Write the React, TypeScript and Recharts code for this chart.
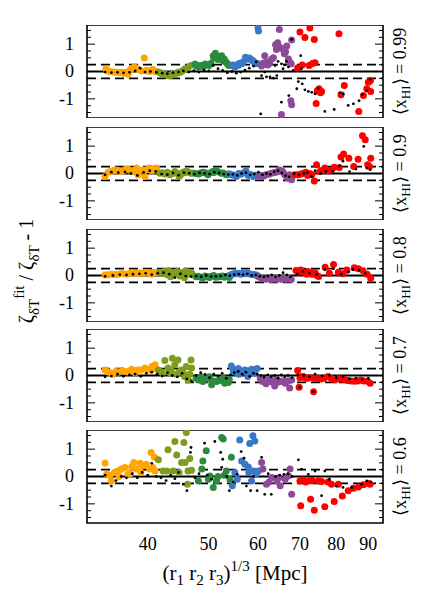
import { ScatterChart, Scatter, XAxis, YAxis, ReferenceLine, ReferenceArea } from "recharts";

type Pt = [number, number];

// x = (r1 r2 r3)^(1/3) in Mpc, y = zeta_fit / zeta - 1
const orange1: Pt[] = [[34.3,0.1],[34.6,0.02],[34.8,0],[35.2,-0.02],[35.4,-0.03],[35.6,-0.02],[36.0,-0.05],[36.3,-0.03],[36.6,-0.06],[36.8,-0.05],[37.0,-0.02],[37.2,-0.1],[37.5,0.05],[37.7,0.12],[38.1,0.16],[38.4,0.1],[38.6,0.07],[39.1,0.02],[39.5,0.49],[39.8,0.04],[40.0,0.02],[40.3,0],[40.5,0.05],[40.8,0.07],[41.1,0]];
const olive1: Pt[] = [[41.6,-0.02],[41.9,-0.05],[42.1,-0.07],[42.4,-0.1],[42.6,-0.11],[42.9,-0.13],[43.1,-0.15],[43.4,-0.16],[43.6,-0.12],[43.9,-0.1],[44.2,-0.08],[44.5,-0.06],[44.7,-0.03],[45.0,-0.04],[45.3,0],[45.6,0.05],[45.9,0.1],[46.1,0.08],[46.4,0.15],[46.9,0.22]];
const green1: Pt[] = [[47.6,0.27],[47.9,0.2],[48.2,0.16],[48.5,0.22],[48.8,0.22],[49.1,0.18],[49.4,0.27],[49.7,0.25],[50.1,0.22],[50.5,0.3],[50.9,0.58],[51.0,0.5],[51.3,0.67],[51.8,0.44],[52.1,0.52],[52.5,0.58],[52.8,0.38],[53.0,0.46],[53.4,0.34],[53.6,0.28],[53.9,0.22]];
const blue1: Pt[] = [[54.6,0.24],[54.9,0.2],[55.1,0.16],[55.5,0.25],[55.8,0.22],[56.1,0.3],[56.5,0.28],[56.8,0.35],[57.3,0.52],[57.6,0.45],[57.9,0.49],[58.2,0.48],[58.5,0.44],[58.8,0.4],[59.0,0.37],[59.3,0.32],[59.5,0.28],[59.8,0.3],[60.0,1.59],[60.1,1.48]];
const purple1: Pt[] = [[60.8,0.2],[61.1,0.3],[61.5,0.58],[61.9,0.35],[62.2,0.24],[62.6,0.3],[63.1,0.46],[63.5,0.5],[64.0,0.98],[64.2,0.8],[64.5,1.05],[65.0,0.89],[65.6,0.83],[66.1,0.65],[66.4,0.72],[66.7,0.93],[67.1,0.46],[67.4,0.35],[67.8,0.28],[67.9,1.15],[64.9,1.54],[65.4,-1.57],[67.7,-1.07],[67.9,-1.22]];
const red1: Pt[] = [[69.4,0.13],[70.0,1.44],[70.6,0.24],[71.3,1.24],[72.4,0.22],[72.6,1.59],[73.3,0.29],[73.8,1.17],[74.0,0.32],[74.3,-1.17],[74.6,-0.7],[75.1,-0.63],[75.5,-0.78],[75.8,-0.73],[80.8,1.38],[81.4,-0.85],[82.4,-0.51],[86.9,-1.46],[88.4,-0.88],[89.5,-0.63],[90.0,-0.39],[90.7,-0.34],[90.8,-0.73]];
const black1: Pt[] = [[34.2,-0.02],[35.0,-0.04],[35.8,-0.03],[36.6,-0.05],[37.4,-0.03],[38.2,0.02],[38.9,0.12],[39.6,-0.02],[40.4,0],[41.3,-0.03],[42.2,-0.06],[43.0,-0.08],[43.9,-0.05],[44.8,-0.02],[45.6,0.02],[46.5,-0.02],[47.4,0.03],[48.3,-0.02],[49.2,0.05],[50.1,0.02],[50.9,0.22],[51.8,0.1],[52.7,0.04],[53.6,-0.05],[54.5,0],[55.4,-0.06],[56.3,-0.02],[57.2,0.05],[58.1,0.12],[59.0,0.2],[59.6,0.35],[60.6,-1.55],[60.8,-0.15],[61.5,-0.02],[61.9,-0.2],[62.7,-0.2],[63.5,-0.24],[64.3,-0.15],[63.9,0.22],[64.6,0.37],[65.4,0.28],[66.2,0.24],[65.8,0.1],[67.1,0.16],[66.6,0.37],[67.9,1.17],[70.2,0.58],[65.4,-1.12],[67.2,-0.88],[69.2,-0.63],[69.6,-0.37],[70.6,-0.45],[71.3,-0.67],[72.2,-0.73],[73.1,-0.76],[74.0,-0.82],[74.9,-0.63],[76.7,-1.46],[79.4,-1.39],[81.1,-0.78],[82.1,-0.82],[83.6,-1.24],[85.2,-1.18],[87.0,-1.07],[88.1,-0.85],[89.5,-0.7],[90.6,-0.29],[70.4,0.1],[68.3,0.04]];

const orange2: Pt[] = [[34.2,-0.11],[34.6,0.05],[34.9,0.07],[35.2,0.1],[35.5,0.13],[35.8,0.12],[36.0,0.08],[36.3,0.07],[36.7,0.12],[37.0,0.17],[37.3,0.15],[37.7,0.07],[38.0,0.1],[38.4,0.2],[38.6,-0.05],[38.9,0.12],[39.3,0.13],[39.6,-0.11],[39.9,0.15],[40.3,0.2],[40.6,0.1],[40.8,0.13],[41.0,0.18],[41.3,0.2]];
const olive2: Pt[] = [[41.8,0.01],[42.2,0.03],[42.6,-0.02],[43.0,0.05],[43.4,-0.05],[43.8,0],[44.2,0.07],[44.5,0.02],[44.9,-0.11],[45.2,-0.03],[45.5,0.05],[45.8,0.03],[46.1,0.1],[46.5,0.05],[46.9,0.01],[47.2,0.02]];
const green2: Pt[] = [[47.7,0],[48.2,-0.02],[48.6,0.02],[49.0,0.05],[49.4,0.03],[49.9,-0.05],[50.0,0],[50.3,0.02],[50.8,0.07],[51.0,0.04],[51.4,0.12],[51.8,0.06],[52.4,0.01],[52.8,0.02],[53.4,-0.05],[53.8,-0.02]];
const blue2: Pt[] = [[54.1,-0.02],[54.5,-0.05],[54.9,-0.06],[55.4,-0.11],[55.9,0],[55.9,-0.04],[56.4,-0.02],[56.9,0.02],[57.4,0.1],[57.9,-0.07],[58.4,-0.04],[59.0,-0.11],[59.5,-0.06],[60.0,-0.08]];
const purple2: Pt[] = [[60.3,-0.08],[60.8,-0.11],[61.3,-0.09],[61.8,-0.05],[62.4,-0.03],[63.0,0.01],[63.5,0.03],[64.1,0.05],[64.9,0.13],[65.5,0.1],[65.8,0.05],[66.2,-0.05],[66.6,-0.1],[67.0,-0.17],[67.4,-0.05],[67.9,-0.23]];
const red2: Pt[] = [[68.8,-0.05],[69.6,-0.05],[70.3,-0.02],[70.9,0.01],[71.5,0.05],[72.0,-0.07],[72.6,0],[73.1,-0.05],[73.8,-0.27],[74.4,0.32],[75.3,0.07],[75.8,0.1],[76.2,0.12],[76.7,0.2],[77.7,0.1],[78.6,0.13],[79.4,0.23],[80.9,0.22],[81.4,0.6],[82.2,0.71],[83.8,0.56],[85.3,0.26],[86.7,0.52],[88.1,1.38],[89.0,1.23],[89.8,0.32],[90.4,0.26],[90.8,0.56]];
const black2: Pt[] = [[34.2,-0.05],[35.0,0.05],[35.9,0.03],[36.8,0.06],[37.6,0],[38.5,-0.07],[39.4,0.04],[40.3,0.1],[41.2,0.08],[42.1,-0.02],[43.0,-0.04],[43.9,0.02],[44.8,-0.06],[45.7,0.03],[46.6,0.01],[47.5,-0.02],[48.4,0.02],[49.3,0],[50.2,-0.02],[51.1,0.05],[52.0,0.02],[52.9,-0.02],[53.8,-0.04],[54.7,-0.03],[55.6,-0.07],[56.5,0],[57.4,0.03],[58.3,-0.05],[59.2,-0.02],[60.1,0.05],[61.0,-0.05],[61.9,0],[62.8,-0.03],[63.7,0.06],[64.6,0.1],[65.5,0.02],[66.4,-0.08],[67.3,-0.12],[68.5,0],[69.8,-0.05],[71.0,0],[72.0,0.04],[73.0,-0.1],[74.0,0.1],[75.5,0],[77.0,0.08],[79.0,0.09],[81.0,0.28],[82.0,0.45],[84.0,0.07],[86.0,0.16],[88.5,0.99],[89.5,0.2],[90.6,0.14]];

const orange3: Pt[] = [[34.2,0.02],[34.6,0.03],[35.0,0.05],[35.4,0.04],[35.8,0.04],[36.2,0.06],[36.6,0.06],[37.0,0.05],[37.4,0.07],[37.8,0.1],[38.2,0.08],[38.6,0.06],[39.0,0.1],[39.4,0.08],[39.8,0.12],[40.2,0.1],[40.6,0.05],[40.9,0.12],[41.3,0.1]];
const olive3: Pt[] = [[41.8,0.12],[42.1,0.08],[42.5,0.15],[42.8,0.1],[43.0,0.03],[43.2,0.18],[43.5,-0.05],[43.9,0.05],[44.2,0.12],[44.6,0.15],[44.9,0.08],[45.0,-0.02],[45.3,0.1],[45.6,0.12],[45.8,-0.08],[46.0,0.17],[46.3,0.05],[46.7,0.12],[47.0,0.08],[47.2,0.03]];
const green3: Pt[] = [[47.8,-0.05],[48.2,-0.03],[48.6,-0.06],[49.0,-0.08],[49.4,-0.02],[49.8,-0.04],[50.2,-0.07],[50.6,-0.03],[51.0,0],[51.4,-0.06],[51.8,-0.05],[52.2,-0.04],[52.6,-0.02],[53.0,-0.06],[53.4,-0.04],[53.7,-0.02],[54.0,-0.07]];
const blue3: Pt[] = [[54.3,0.03],[54.6,0.05],[55.0,0.06],[55.3,0.08],[55.7,0.08],[56.0,0.06],[56.4,0.05],[56.8,0.1],[57.2,0.06],[57.6,0.08],[58.0,0.07],[58.4,0.05],[58.8,0.04],[59.2,0.03],[59.6,0.02],[59.8,0]];
const purple3: Pt[] = [[60.2,-0.05],[60.6,-0.08],[61.0,-0.1],[61.4,-0.12],[61.8,-0.14],[62.2,-0.1],[62.6,-0.12],[63.0,-0.15],[63.4,-0.1],[63.8,-0.12],[64.2,-0.14],[64.6,-0.1],[65.0,-0.12],[65.4,-0.14],[65.8,-0.1],[66.2,-0.12],[66.6,-0.14],[67.0,-0.1],[67.4,-0.12],[67.8,-0.15]];
const red3: Pt[] = [[69.0,0.18],[69.5,0.12],[70.2,0.2],[70.6,0.15],[71.0,0.12],[71.8,0.05],[72.0,0.15],[72.5,0.12],[73.2,0.05],[73.6,0.1],[74.0,0.1],[74.5,0],[75.0,-0.04],[76.8,0.3],[78.0,0.08],[79.2,0.4],[80.6,0.12],[82.0,0.06],[83.2,0.2],[85.5,0.28],[86.8,0.25],[88.3,0.17],[89.6,0.05],[90.8,-0.1]];
const black3: Pt[] = [[34.2,-0.03],[35.2,0],[36.1,0.03],[37.0,0.02],[37.9,0.05],[38.8,0.06],[39.7,0.08],[40.6,0.03],[41.5,0.08],[42.4,0.1],[43.3,0.05],[44.2,-0.08],[45.1,0.06],[46.0,-0.02],[46.9,-0.04],[47.8,-0.02],[48.7,-0.05],[49.6,0],[50.5,-0.04],[51.4,-0.03],[52.3,-0.02],[53.2,0.02],[54.1,-0.01],[55.0,0.03],[55.9,0.05],[56.8,0.03],[57.7,0.06],[58.6,0],[59.5,0.02],[60.4,-0.03],[61.3,-0.05],[62.2,-0.02],[63.1,0.02],[64.0,-0.05],[64.9,0],[65.8,0.1],[66.7,0.02],[67.6,-0.05],[69.3,0.05],[70.8,0.15],[72.5,0.08],[74.5,0.05],[76.7,0.22],[79.2,0.25],[81.5,0.05],[83.6,0.12],[85.0,0.22],[87.0,0.2],[89.0,0.08]];

const orange4: Pt[] = [[34.2,0.2],[34.5,0.15],[34.8,0.11],[35.2,0.05],[35.6,0.15],[35.9,0.12],[36.4,0.18],[36.9,0.15],[37.2,0.13],[37.7,0.23],[38.0,0.17],[38.2,0.1],[38.6,0.2],[39.0,0.2],[39.6,0.27],[39.9,0.22],[40.3,0.2],[40.6,0.33],[40.9,0.25],[41.1,0.39]];
const olive4: Pt[] = [[41.6,0.2],[41.9,0.15],[42.2,0.1],[42.6,0.55],[43.1,0.27],[43.4,0.1],[43.6,0.2],[43.8,0.63],[44.2,0.39],[44.5,0.05],[44.7,0.57],[45.0,0.15],[45.3,0.2],[45.6,0.1],[45.8,-0.04],[46.1,0.33],[46.4,-0.16],[46.7,0.05],[46.9,0.57],[47.0,0.27]];
const green4: Pt[] = [[47.8,-0.1],[48.2,-0.16],[48.7,-0.05],[49.0,-0.22],[49.4,-0.12],[49.9,-0.13],[50.2,-0.05],[50.6,-0.34],[50.9,-0.2],[51.5,-0.22],[51.9,-0.18],[52.3,-0.16],[52.8,-0.1],[53.1,-0.28],[53.4,-0.2],[53.8,-0.26],[54.0,-0.15]];
const blue4: Pt[] = [[54.4,0.35],[54.8,0.15],[55.1,0.2],[55.5,0.1],[55.8,0.26],[56.0,0.05],[56.5,0.12],[57.0,0.15],[57.2,0.2],[57.8,-0.04],[58.2,0.1],[58.6,0.23],[59.0,0.15],[59.3,0.09],[59.8,0.26]];
const purple4: Pt[] = [[60.5,-0.1],[60.8,-0.15],[61.0,-0.22],[61.8,-0.3],[62.2,-0.2],[62.6,-0.12],[63.2,-0.25],[63.8,-0.38],[64.2,-0.15],[64.6,-0.25],[65.0,-0.22],[65.6,-0.2],[66.3,-0.28],[66.9,-0.2],[67.4,-0.46],[67.9,-0.16]];
const red4: Pt[] = [[69.4,0.18],[69.8,-0.43],[70.0,-0.08],[70.5,-0.04],[71.0,-0.05],[71.4,-0.1],[72.0,-0.1],[72.6,-0.08],[73.6,-0.59],[73.9,-0.1],[74.4,-0.12],[74.8,-0.1],[75.7,-0.13],[76.5,-0.1],[77.6,-0.04],[78.5,-0.1],[79.6,-0.16],[80.5,-0.12],[81.5,-0.13],[82.5,-0.15],[83.4,-0.18],[84.5,-0.2],[85.5,-0.21],[86.5,-0.2],[87.6,-0.16],[88.6,-0.2],[89.8,-0.21],[90.6,-0.28]];
const black4: Pt[] = [[34.2,-0.05],[35.0,-0.02],[35.8,0.05],[36.6,-0.03],[37.4,0.02],[38.2,0.05],[39.0,-0.03],[39.8,0.08],[40.6,0.12],[41.4,0.05],[42.2,-0.02],[43.0,0.1],[43.8,0],[44.6,-0.05],[45.4,0.08],[46.2,-0.12],[47.0,-0.2],[47.8,0],[48.6,0.1],[49.4,0.04],[50.2,-0.08],[51.0,0.05],[51.8,-0.02],[52.6,0.08],[53.4,-0.1],[54.2,0.02],[55.0,0.1],[55.8,0.15],[56.6,0.05],[57.4,0.12],[58.2,-0.03],[59.0,0.08],[59.8,0.05],[60.6,0],[61.4,-0.06],[62.2,0.02],[63.0,-0.05],[63.8,0],[64.6,-0.1],[65.4,0.02],[66.2,-0.05],[67.0,0],[68.0,-0.08],[69.5,0.02],[71.0,0],[72.5,-0.05],[74.0,0.05],[76.0,-0.02],[78.0,0],[80.0,-0.08],[82.0,-0.05],[84.0,-0.12],[86.0,-0.1],[88.0,-0.15],[90.0,-0.1],[69.9,-0.43],[73.6,-0.59]];

const orange5: Pt[] = [[34.2,0.49],[34.4,0.09],[34.8,0.05],[35.0,-0.16],[35.4,0.15],[35.9,0.2],[36.0,0],[36.3,0.27],[36.8,0.33],[37.2,0.09],[37.5,0.1],[37.7,0.35],[38.0,0.51],[38.4,0.27],[38.9,0.48],[39.0,0.15],[39.3,0.39],[39.8,0.45],[40.3,0.27],[40.5,0.88],[40.8,0.33],[41.0,0.7],[41.1,0.2]];
const olive5: Pt[] = [[41.6,0.61],[42.3,0.2],[42.9,0.2],[43.1,0.98],[43.9,0.2],[44.2,1.28],[44.5,0.79],[44.9,0.15],[45.3,0.51],[45.7,1.24],[45.9,0.51],[46.1,1.61],[46.3,-0.28],[46.4,0.2],[46.7,0.66],[47.0,0.23]];
const green5: Pt[] = [[48.2,-0.16],[48.8,0.27],[49.0,0.57],[49.6,0.94],[50.0,-0.1],[50.3,0.02],[50.9,-0.4],[51.5,-0.16],[51.8,0],[52.5,1.43],[52.8,1.37],[53.0,0.05],[53.4,0.2],[54.1,-0.1],[54.4,0.7]];
const blue5: Pt[] = [[54.6,-0.34],[55.1,0.15],[55.6,-0.1],[56.1,1.33],[56.5,0.57],[57.2,0.45],[57.9,0.35],[58.0,0.15],[58.2,1.21],[58.6,-0.16],[58.9,1.49],[59.0,0.2],[59.3,1.3],[59.6,0.1],[60.1,0.2]];
const purple5: Pt[] = [[60.8,0.51],[61.1,0.27],[61.9,-0.28],[62.5,-0.2],[63.1,-0.04],[64.3,-0.16],[64.8,-0.05],[65.1,-0.34],[66.3,-0.1],[67.1,0.02],[67.5,0.27],[67.9,-0.65]];
const red5: Pt[] = [[70.0,-0.16],[70.2,-1.07],[70.8,-0.13],[71.5,-0.2],[72.2,-0.16],[72.8,-0.83],[73.2,-0.15],[73.8,-1.23],[74.9,-0.16],[75.8,-0.18],[76.7,-1.11],[77.6,-0.2],[78.6,-0.28],[79.4,-0.91],[80.6,-0.28],[81.8,-0.71],[83.6,-0.52],[85.2,-0.43],[86.8,-0.38],[88.4,-0.3],[90.0,-0.26],[90.6,-0.28]];
const black5: Pt[] = [[34.2,0.05],[35.0,-0.35],[35.6,-0.15],[36.3,0],[37.0,-0.05],[37.8,0.1],[38.5,-0.05],[39.2,0.15],[40.0,0.05],[40.6,0.48],[41.3,0],[42.0,-0.05],[42.8,-0.15],[43.5,0.05],[44.2,-0.08],[44.8,0.15],[45.6,-0.28],[46.2,-0.52],[46.9,1.06],[46.8,0.88],[47.6,-0.05],[48.3,0.1],[49.3,1.22],[49.8,0.05],[50.6,-0.1],[51.2,1.28],[52.3,0.88],[52.7,0.63],[52.5,0.33],[53.5,0],[54.0,-0.52],[54.8,-0.2],[55.6,0.08],[56.4,0.91],[57.0,0.67],[57.5,-0.35],[58.4,-0.52],[59.0,0],[59.8,-0.52],[60.8,0.7],[61.5,-0.65],[62.3,0.1],[63.0,-0.65],[64.0,0],[65.0,0.05],[66.0,0.08],[67.0,0.1],[68.0,0],[69.6,0.61],[70.4,0.27],[72.2,0.08],[74.0,0.2],[75.8,-0.7],[76.7,0.2],[78.0,-0.1],[80.0,-0.35],[82.0,-0.4],[84.7,-0.4],[87.8,-0.28],[89.5,-0.16],[90.8,-0.2]];

const xTicks = [40, 50, 60, 70, 80, 90];
const yTicks = [-1.5, -1.25, -1, -0.75, -0.5, -0.25, 0, 0.25, 0.5, 0.75, 1, 1.25, 1.5];
const xhiLabels = ["0.99", "0.9", "0.8", "0.7", "0.6"];

const COLORS = ["#ffa500", "#7f9c1c", "#2b8a3e", "#3a78c6", "#8c4a98", "#ff0000"];

const panels = [
  { groups: [orange1, olive1, green1, blue1, purple1, red1], dots: black1 },
  { groups: [orange2, olive2, green2, blue2, purple2, red2], dots: black2 },
  { groups: [orange3, olive3, green3, blue3, purple3, red3], dots: black3 },
  { groups: [orange4, olive4, green4, blue4, purple4, red4], dots: black4 },
  { groups: [orange5, olive5, green5, blue5, purple5, red5], dots: black5 },
];

const TOPS = [25, 127, 229, 329, 430];
const PL = 87;
const PR = 383;
const PH = 93;
const FONT = "'Liberation Serif', 'Times New Roman', serif";

const toXY = (a: Pt[]) => a.map(([x, y]) => ({ x, y }));

function YTick(props: any) {
  const { y, payload } = props;
  const v = payload.value as number;
  const major = Math.abs(v - Math.round(v)) < 1e-6;
  const len = major ? 8 : 4;
  return (
    <g>
      <line x1={PL} x2={PL + len} y1={y} y2={y} stroke="#000" strokeWidth={1} />
      <line x1={PR} x2={PR - len} y1={y} y2={y} stroke="#000" strokeWidth={1} />
      {major && (
        <text x={74} y={y} dy="0.33em" textAnchor="end" fontSize={18} fontFamily={FONT} fill="#000">
          {String(v)}
        </text>
      )}
    </g>
  );
}

function XTick(props: any) {
  const { x, payload } = props;
  return (
    <text x={x} y={PH + 27} textAnchor="middle" fontSize={18} fontFamily={FONT} fill="#000">
      {payload.value}
    </text>
  );
}

function Panel({ idx }: { idx: number }) {
  const last = idx === panels.length - 1;
  const p = panels[idx];
  return (
    <div style={{ position: "absolute", left: 0, top: TOPS[idx] }}>
      <ScatterChart width={435} height={last ? PH + 60 : PH} margin={{ top: 0, right: 435 - PR, bottom: 0, left: 0 }}>
        <XAxis
          type="number"
          dataKey="x"
          scale="log"
          domain={[32, 95]}
          allowDataOverflow
          ticks={xTicks}
          interval={0}
          hide={!last}
          height={60}
          tickLine={false}
          axisLine={false}
          tick={(t: any) => <XTick {...t} />}
        />
        <YAxis
          type="number"
          dataKey="y"
          domain={[-1.7, 1.7]}
          allowDataOverflow
          ticks={yTicks}
          interval={0}
          width={PL}
          tickLine={false}
          axisLine={false}
          tick={(t: any) => <YTick {...t} />}
        />
        <ReferenceLine y={0.25} stroke="#000" strokeWidth={1.6} strokeDasharray="9 5" />
        <ReferenceLine y={-0.25} stroke="#000" strokeWidth={1.6} strokeDasharray="9 5" />
        {p.groups.map((g, i) => (
          <Scatter
            key={i}
            data={toXY(g)}
            isAnimationActive={false}
            shape={(s: any) => <circle cx={s.cx} cy={s.cy} r={3.5} fill={COLORS[i]} />}
          />
        ))}
        <Scatter
          data={toXY(p.dots)}
          isAnimationActive={false}
          shape={(s: any) => <circle cx={s.cx} cy={s.cy} r={1.4} fill="#000" />}
        />
        <ReferenceLine y={0} stroke="#000" strokeWidth={1.8} />
        <ReferenceArea x1={32} x2={95} y1={-1.7} y2={1.7} fill="none" stroke="#000" strokeWidth={1.6} ifOverflow="visible" />
      </ScatterChart>
    </div>
  );
}

export default function App() {
  return (
    <div style={{ position: "absolute", left: 0, top: 0, width: 435, height: 599, background: "#fff" }}>
      {panels.map((_, i) => (
        <Panel key={i} idx={i} />
      ))}
      <svg width={435} height={599} style={{ position: "absolute", left: 0, top: 0, pointerEvents: "none" }} fontFamily={FONT}>
        {xhiLabels.map((l, i) => {
          const cy = TOPS[i] + PH / 2;
          return (
            <text key={l} x={406} y={cy} transform={`rotate(-90 406 ${cy})`} textAnchor="middle" fontSize={18} fill="#000">
              ⟨x<tspan dy={4} fontSize={13}>HI</tspan>
              <tspan dy={-4}>⟩ = {l}</tspan>
            </text>
          );
        })}
        <text x={33} y={271} transform="rotate(-90 33 271)" textAnchor="middle" fontSize={20} fill="#000">
          ζ<tspan dy={6} fontSize={15}>δT</tspan>
          <tspan dy={-15} fontSize={15}>fit</tspan>
          <tspan dy={9}> / ζ</tspan>
          <tspan dy={6} fontSize={15}>δT</tspan>
          <tspan dy={-6}> - 1</tspan>
        </text>
        <text x={235} y={580} textAnchor="middle" fontSize={21} fill="#000">
          (r<tspan dy={5} fontSize={15}>1</tspan>
          <tspan dy={-5}> r</tspan>
          <tspan dy={5} fontSize={15}>2</tspan>
          <tspan dy={-5}> r</tspan>
          <tspan dy={5} fontSize={15}>3</tspan>
          <tspan dy={-5}>)</tspan>
          <tspan dy={-9} fontSize={15}>1/3</tspan>
          <tspan dy={9}> [Mpc]</tspan>
        </text>
      </svg>
    </div>
  );
}
